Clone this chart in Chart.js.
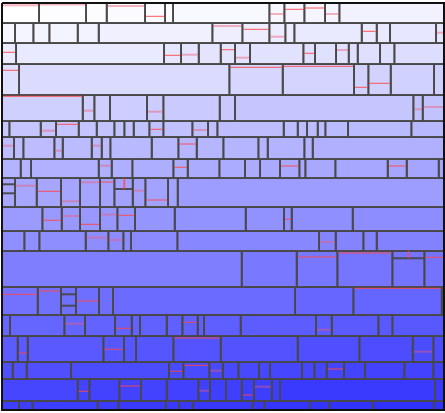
<!DOCTYPE html>
<html>
<head>
<meta charset="utf-8">
<script src="https://cdn.jsdelivr.net/npm/chart.js@4"></script>
<style>
html,body{margin:0;padding:0;background:#ffffff;}
#wrap{width:445px;height:413px;}
</style>
</head>
<body>
<div id="wrap"><canvas id="c" width="445" height="413"></canvas></div>
<script>
// Outer extents of the mosaic
const leftEdge = 2;
const rightEdge = 444;

// Horizontal row boundaries (top to bottom)
const rowEdges = [3, 23, 43, 64, 95, 121, 137, 159, 178, 207, 231, 251, 287, 315, 336, 362, 379, 401, 410];

// Interior vertical dividers of each row
const cellCuts = [
  [39, 86, 106.7, 145, 165, 173, 269.3, 284.3, 304.3, 325, 339.3],
  [15, 33.3, 49.3, 77.7, 98.7, 212.3, 242.3, 269.3, 285.3, 294.3, 361.7, 376.7, 390, 436],
  [16, 164, 181, 198.7, 220.7, 235, 250, 303.3, 315, 336, 348.7, 357.7, 380, 394.3],
  [19, 229.3, 282.7, 354, 368.3, 390.7, 434],
  [82.7, 94.3, 110, 147, 163.3, 219.7, 235, 413.3, 422.7],
  [9.3, 40.7, 56, 78.7, 96.7, 114.3, 124.3, 133.7, 149.3, 163.3, 192.3, 208, 217.3, 283.7, 297.7, 307, 317.7, 325.3, 348, 411.3],
  [14, 23.3, 54.3, 62.7, 91.7, 101.7, 110.3, 151.7, 178.3, 196.7, 223.3, 258.3, 267.7, 304.3, 312.7],
  [20.7, 31, 98.7, 111.7, 132.3, 173.3, 187.7, 219.3, 245, 260, 280, 299.3, 305.3, 335.3, 387.7, 406.7, 438.7],
  [15, 36.7, 61, 80, 100, 114.3, 132.7, 145.3, 168, 177.7],
  [42.3, 61.7, 80, 100, 117.3, 135, 174.7, 245.7, 284, 291.7, 352.7],
  [24.3, 39.3, 85.7, 108.3, 123.3, 131, 177.3, 319, 335.7, 363.3, 376.7],
  [241.7, 296.7, 337.3, 392.3, 424.3],
  [37.7, 61, 76, 99, 113, 295, 353.3, 441.7],
  [10, 64.3, 85, 115, 131.7, 140, 166.7, 182.3, 197.7, 204, 240.7, 316, 331.7, 378.3, 392.3],
  [17.7, 27.7, 103.3, 124, 136, 173.3, 220.7, 297.7, 359.3, 412.7, 433.3],
  [12.7, 26.7, 71, 169, 183.3, 209.3, 222.7, 238.3, 259, 270, 302, 314.3, 326.7, 344, 365, 404.3, 433.3],
  [77.7, 89.3, 119.3, 141, 166.7, 198.3, 210, 226, 241.7, 254, 271.7, 280, 435],
  [19, 32.3, 97.7, 118.3, 165.7, 179, 192.7, 252.3, 264.3, 310, 329.3, 372.7, 434]
];

// Horizontal sub-divisions inside a cell: [row, cell, level]
const subSplits = [
  [8, 0, 184.3], [8, 0, 193.3], [8, 6, 189],
  [11, 4, 258.3],
  [12, 2, 294.3], [12, 2, 305.7]
];

// Red level markers: [row, cell, level, strong(1)/faint(0)]
const markers = [
  [0,0,5.3,0],[0,1,4.5,0],[0,3,6,0],[0,4,16.3,1],[0,7,14,0],[0,8,9.3,1],[0,9,8,1],[0,10,14,0],
  [1,6,26,0],[1,7,29.3,1],[1,8,36.7,0],[1,11,31.3,1],[1,14,32.7,0],
  [2,0,52.3,1],[2,2,55.3,1],[2,3,54.7,0],[2,5,49.7,1],[2,6,57.7,0],[2,8,53.3,1],[2,10,50,0],
  [3,0,70.3,1],[3,2,67.3,1],[3,3,66.3,1],[3,4,87.3,1],[3,5,83.3,1],
  [4,0,96.3,1],[4,1,110.7,0],[4,4,111.7,0],[4,8,109.3,0],[4,9,107,0],
  [5,2,130.7,0],[5,3,124.3,1],[5,9,129.3,1],[5,11,130,0],
  [6,0,145.7,0],[6,3,150.7,0],[6,5,145.7,0],[6,9,144,1],
  [7,3,165.7,0],[7,6,167.3,1],[7,11,166,1],[7,15,166,1],
  [8,1,185.7,0],[8,2,191.3,1],[8,3,201.3,0],[8,4,182.3,0],[8,5,182,1],[8,7,190.7,0],[8,8,200,1],
  [9,1,220.3,1],[9,2,216,0],[9,3,224.3,1],[9,4,214.5,0],[9,5,215.3,1],[9,9,219.3,1],
  [10,3,237.7,0],[10,4,240,0],[10,8,242,0],
  [11,2,257,1],[11,3,253,1],[11,5,257.3,1],
  [12,0,294.3,1],[12,1,291,1],[12,3,301,1],[12,7,288.3,1],
  [13,2,323.7,0],[13,4,328.3,1],[13,8,322.3,1],[13,12,329.7,0],
  [14,1,353,1],[14,3,349.3,1],[14,6,338,1],[14,10,351.7,0],
  [15,4,371.3,1],[15,5,365.3,1],[15,6,370.7,0],[15,13,369,1],
  [16,1,391.3,1],[16,3,386,1],[16,6,390.7,0],[16,9,395,1],[16,10,386.7,0]
];

// Vertical red markers: [row, cell, position, top, bottom]
const vMarkers = [
  [8, 6, 124.3, 178.3, 189],
  [11, 4, 408.3, 251, 258.3]
];

function cellBounds(r, c) {
  const edges = [leftEdge].concat(cellCuts[r], [rightEdge]);
  return {x0: edges[c], x1: edges[c + 1], y0: rowEdges[r], y1: rowEdges[r + 1]};
}
function fillFor(cx, cy) {
  let v = Math.round(262 - 0.035 * cx - 0.49 * cy);
  v = Math.max(40, Math.min(255, v));
  return 'rgb(' + v + ',' + v + ',255)';
}

const datasets = [];
const lineBase = {showLine: true, pointRadius: 0, pointHoverRadius: 0, tension: 0};

for (let r = 0; r < cellCuts.length; r++) {
  const n = cellCuts[r].length + 1;
  for (let c = 0; c < n; c++) {
    const b = cellBounds(r, c);
    datasets.push(Object.assign({}, lineBase, {
      data: [{x:b.x0,y:b.y0},{x:b.x1,y:b.y0},{x:b.x1,y:b.y1},{x:b.x0,y:b.y1},{x:b.x0,y:b.y0}],
      fill: 'shape',
      backgroundColor: fillFor((b.x0 + b.x1) / 2, (b.y0 + b.y1) / 2),
      borderColor: 'rgba(72,72,72,0.95)',
      borderWidth: 2,
      order: 4
    }));
  }
}
subSplits.forEach(s => {
  const b = cellBounds(s[0], s[1]);
  datasets.push(Object.assign({}, lineBase, {
    data: [{x:b.x0,y:s[2]},{x:b.x1,y:s[2]}],
    fill: false, borderColor: 'rgba(72,72,72,0.95)', borderWidth: 2, order: 3
  }));
});
markers.forEach(m => {
  const b = cellBounds(m[0], m[1]);
  datasets.push(Object.assign({}, lineBase, {
    data: [{x:b.x0 + 1,y:m[2]},{x:b.x1 - 1,y:m[2]}],
    fill: false,
    borderColor: m[3] ? 'rgba(255,70,70,0.9)' : 'rgba(240,90,110,0.45)',
    borderWidth: m[3] ? 1 : 2,
    order: 2
  }));
});
vMarkers.forEach(m => {
  datasets.push(Object.assign({}, lineBase, {
    data: [{x:m[2],y:m[3]},{x:m[2],y:m[4]}],
    fill: false, borderColor: 'rgba(255,70,70,0.9)', borderWidth: 1.5, order: 2
  }));
});
// outer frame
const top0 = rowEdges[0], bot0 = rowEdges[rowEdges.length - 1];
datasets.push(Object.assign({}, lineBase, {
  data: [{x:leftEdge,y:top0},{x:rightEdge,y:top0},{x:rightEdge,y:bot0},{x:leftEdge,y:bot0},{x:leftEdge,y:top0}],
  fill: false, borderColor: '#111111', borderWidth: 2, order: 1
}));

new Chart(document.getElementById('c'), {
  type: 'scatter',
  data: {datasets: datasets},
  options: {
    responsive: false,
    devicePixelRatio: 1,
    animation: false,
    events: [],
    layout: {padding: 0},
    scales: {
      x: {type: 'linear', min: 0, max: 445, display: false},
      y: {type: 'linear', min: 0, max: 413, reverse: true, display: false}
    },
    plugins: {legend: {display: false}, tooltip: {enabled: false}}
  }
});
</script>
</body>
</html>
